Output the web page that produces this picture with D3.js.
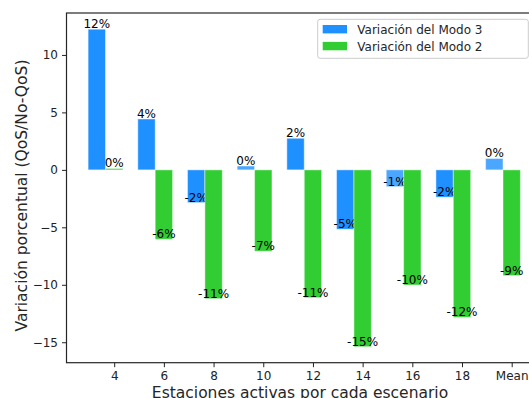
<!DOCTYPE html>
<html>
<head>
<meta charset="utf-8">
<script src="https://d3js.org/d3.v7.min.js"></script>
<style>
  html, body { margin: 0; padding: 0; background: #fff; overflow: hidden; }
  svg { display: block; font-family: "DejaVu Sans", sans-serif; }
</style>
</head>
<body>
<svg id="chart" width="529" height="398"></svg>
<script>
// Scenario labels along the x axis
const categories = ["4", "6", "8", "10", "12", "14", "16", "18", "Mean"];

// Percentage variation (QoS vs No-QoS) per scenario
const modo3 = [12.24, 4.43, -2.85, 0.34, 2.75, -5.17, -1.46, -2.38, 0.99];
const modo2 = [0.12, -6.04, -11.21, -7.08, -11.12, -15.39, -10.02, -12.83, -9.2];

const yTicks = [-15, -10, -5, 0, 5, 10];
const seriesNames = ["Variación del Modo 3", "Variación del Modo 2"];

// Bars shown slightly translucent
const paleBars = new Set(["10", "16", "Mean"]);

const blue = "#1e90ff";
const green = "#32cd32";
const barW = 0.35;

const svg = d3.select("#chart");
const plot = { left: 66.5, right: 542, top: 13, bottom: 362.7 };

const x = d3.scaleLinear().domain([-0.96, 8.61]).range([plot.left, plot.right]);
const y = d3.scaleLinear().domain([-16.78, 13.65]).range([plot.bottom, plot.top]);

const g = svg.append("g");

function drawSeries(values, color, offset) {
  const data = values.map((v, i) => ({ v, i, cat: categories[i] }));
  g.selectAll(null).data(data).enter().append("rect")
    .attr("x", d => x(d.i + offset - barW / 2))
    .attr("width", d => x(barW) - x(0))
    .attr("y", d => y(Math.max(0, d.v)))
    .attr("height", d => Math.abs(y(d.v) - y(0)))
    .attr("fill", color)
    .attr("fill-opacity", d => (offset < 0 && paleBars.has(d.cat)) ? 0.8 : 1)
    .attr("stroke", "#fff")
    .attr("stroke-opacity", 0.45)
    .attr("stroke-width", 1);

  g.selectAll(null).data(data).enter().append("text")
    .attr("x", d => x(d.i + offset))
    .attr("y", d => y(d.v) - 1)
    .attr("text-anchor", "middle")
    .attr("font-size", 12)
    .attr("fill", "#000")
    .text(d => Math.trunc(d.v) + "%");
}

drawSeries(modo3, blue, -0.35);
drawSeries(modo2, green, 0);

// Axes frame
svg.append("rect")
  .attr("x", plot.left).attr("y", plot.top)
  .attr("width", plot.right - plot.left).attr("height", plot.bottom - plot.top)
  .attr("fill", "none").attr("stroke", "#262626").attr("stroke-width", 1.2);

// Y axis
const yAxis = svg.append("g")
  .attr("transform", `translate(${plot.left},0)`)
  .call(d3.axisLeft(y).tickValues(yTicks).tickSize(4.5).tickPadding(4));
yAxis.select(".domain").remove();
yAxis.selectAll("text").attr("font-size", 12).attr("fill", "#222")
  .attr("font-family", "DejaVu Sans");
yAxis.selectAll("line").attr("stroke", "#222").attr("stroke-width", 1);

// X axis
const xAxis = svg.append("g")
  .attr("transform", `translate(0,${plot.bottom})`)
  .call(d3.axisBottom(x).tickValues(d3.range(categories.length))
    .tickFormat(i => categories[i]).tickSize(4.5).tickPadding(4.5));
xAxis.select(".domain").remove();
xAxis.selectAll("text").attr("font-size", 12).attr("fill", "#222")
  .attr("font-family", "DejaVu Sans");
xAxis.selectAll("line").attr("stroke", "#222").attr("stroke-width", 1);

// Axis titles
svg.append("text")
  .attr("transform", "translate(27,195.5) rotate(-90)")
  .attr("text-anchor", "middle")
  .attr("font-size", 15.5)
  .attr("fill", "#262626")
  .text("Variación porcentual (QoS/No-QoS)");

svg.append("text")
  .attr("x", 300).attr("y", 398)
  .attr("text-anchor", "middle")
  .attr("font-size", 15.5)
  .attr("fill", "#262626")
  .text("Estaciones activas por cada escenario");

// Legend
const leg = svg.append("g");
leg.append("rect")
  .attr("x", 317.7).attr("y", 19.3).attr("width", 210.6).attr("height", 39)
  .attr("rx", 2.5)
  .attr("fill", "#fff").attr("fill-opacity", 0.8)
  .attr("stroke", "#cccccc").attr("stroke-width", 1);
[blue, green].forEach((c, k) => {
  leg.append("rect")
    .attr("x", 322.7).attr("y", 25 + k * 16.9).attr("width", 24.3).attr("height", 8.4)
    .attr("fill", c);
  leg.append("text")
    .attr("x", 357.3).attr("y", 34 + k * 16.9)
    .attr("font-size", 12).attr("fill", "#262626")
    .text(seriesNames[k]);
});
</script>
</body>
</html>
